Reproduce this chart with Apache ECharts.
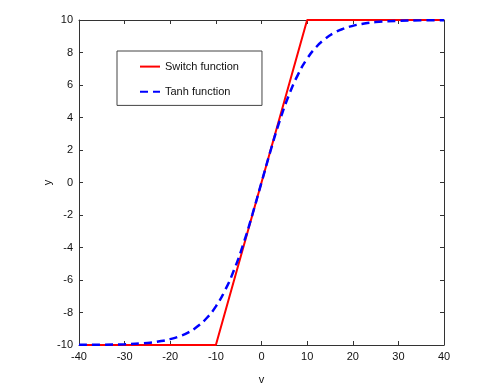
<!DOCTYPE html>
<html>
<head>
<meta charset="utf-8">
<script src="https://cdn.jsdelivr.net/npm/echarts@6/dist/echarts.min.js"></script>
<style>
	html,body{margin:0;padding:0;background:#fff;}
	#chart{width:480px;height:388px;}
</style>
</head>
<body>
<div id="chart"></div>
<script>
	// switch function corners
	var switchV = [-40, -10, 10, 40];
	var switchY = [-10, -10, 10, 10];
	// tanh curve
	var tanhV = [-40, -35, -30, -25, -22, -20, -18, -16, -14, -12, -10, -8, -6, -4, -2, 0, 2, 4, 6, 8, 10, 12, 14, 16, 18, 20, 22, 25, 30, 35, 40];
	var tanhY = [-9.99, -9.98, -9.95, -9.87, -9.76, -9.64, -9.47, -9.22, -8.85, -8.34, -7.62, -6.64, -5.37, -3.80, -1.97, 0, 1.97, 3.80, 5.37, 6.64, 7.62, 8.34, 8.85, 9.22, 9.47, 9.64, 9.76, 9.87, 9.95, 9.98, 9.99];
	var xTicks = [-40, -30, -20, -10, 0, 10, 20, 30, 40];
	var yTicks = [-10, -8, -6, -4, -2, 0, 2, 4, 6, 8, 10];

	function pairs(xs, ys){
		var out = [];
		for(var i=0;i<xs.length;i++){
			out.push([xs[i], ys[i]]);
		}
		return out;
	}

	var txt = {color:'#111', fontFamily:'Liberation Sans', fontSize:11};
	var axLine = {show:true, onZero:false, lineStyle:{color:'#333', width:1}};
	var tick = {show:true, inside:true, length:4, lineStyle:{color:'#333'}};

	var chart = echarts.init(document.getElementById('chart'));
	chart.setOption({
		animation:false,
		backgroundColor:'#fff',
		grid:{left:79, right:36, top:20, bottom:43, outerBoundsMode:'none'},
		legend:{
			orient:'vertical',
			left:117, top:51,
			padding:[10,23,8,22],
			itemWidth:20, itemHeight:14, itemGap:14,
			borderColor:'#444', borderWidth:1,
			itemStyle:{opacity:0},
			textStyle:txt,
			data:['Switch function','Tanh function']
		},
		xAxis:[{
			type:'value', min:xTicks[0], max:xTicks[xTicks.length-1], interval:10,
			name:'v', nameLocation:'middle', nameGap:29, nameMoveOverlap:false, nameTextStyle:txt,
			axisLine:axLine, axisTick:tick, splitLine:{show:false},
			axisLabel:Object.assign({margin:6}, txt)
		},{
			type:'value', position:'top', min:-40, max:40, interval:10,
			axisLine:axLine, axisTick:tick, axisLabel:{show:false}, splitLine:{show:false}
		}],
		yAxis:[{
			type:'value', min:yTicks[0], max:yTicks[yTicks.length-1], interval:2,
			name:'y', nameLocation:'middle', nameGap:26, nameMoveOverlap:false, nameTextStyle:txt,
			axisLine:axLine, axisTick:tick, splitLine:{show:false},
			axisLabel:Object.assign({margin:6}, txt)
		},{
			type:'value', position:'right', min:-10, max:10, interval:2,
			axisLine:axLine, axisTick:tick, axisLabel:{show:false}, splitLine:{show:false}
		}],
		series:[{
			name:'Switch function', type:'line', symbol:'none',
			data:pairs(switchV, switchY),
			lineStyle:{color:'#ff0000', width:2},
			itemStyle:{color:'#ff0000'},
			z:2
		},{
			name:'Tanh function', type:'line', symbol:'none', smooth:true,
			data:pairs(tanhV, tanhY),
			lineStyle:{color:'#0000ff', width:2.5, type:[8,5]},
			itemStyle:{color:'#0000ff'},
			z:3
		}]
	});
</script>
</body>
</html>
